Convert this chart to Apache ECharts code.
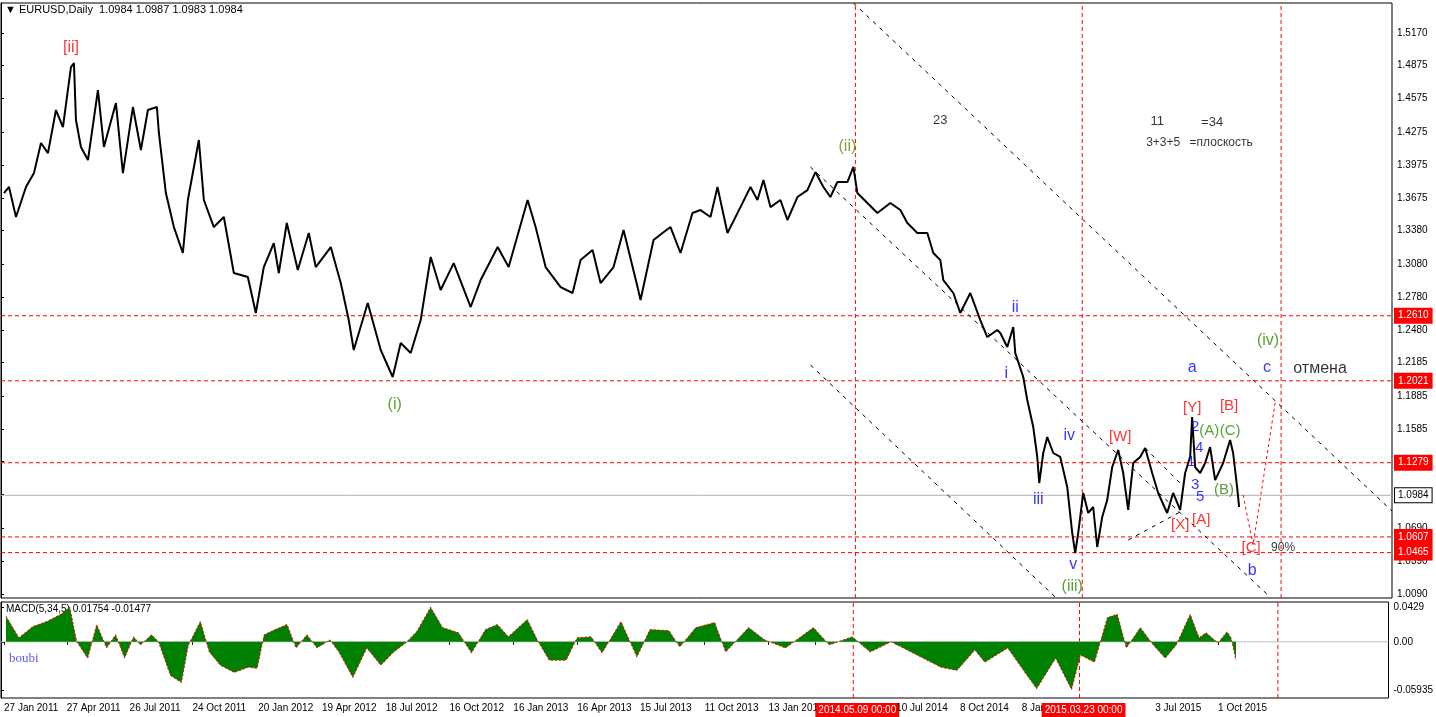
<!DOCTYPE html>
<html>
<head>
<meta charset="utf-8">
<script src="https://cdn.jsdelivr.net/npm/echarts@6/dist/echarts.min.js"></script>
<style>
  html, body { margin: 0; padding: 0; background: #fff; }
  #main { width: 1436px; height: 717px; }
</style>
</head>
<body>
<div id="main"></div>
<script>
// bar index (one per trading day) and close
const priceIdx = [3, 8, 15, 25, 33, 40, 47, 55, 62, 70, 73, 75, 80, 87, 97, 103, 115, 122, 132, 140, 147, 156, 158, 165, 173, 182, 187, 198, 203, 213, 223, 233, 247, 255, 263, 273, 278, 286, 297, 308, 315, 330, 340, 348, 353, 367, 380, 392, 400, 410, 420, 430, 440, 453, 470, 480, 497, 508, 527, 535, 545, 560, 572, 580, 592, 600, 613, 623, 637, 640, 653, 662, 670, 680, 692, 700, 710, 717, 727, 740, 750, 757, 763, 770, 780, 787, 797, 807, 815, 823, 830, 837, 847, 853, 857, 867, 877, 890, 900, 907, 917, 927, 933, 940, 943, 953, 960, 970, 980, 987, 997, 1000, 1007, 1013, 1015, 1023, 1027, 1033, 1037, 1039, 1043, 1047, 1053, 1060, 1067, 1072, 1075, 1078, 1083, 1088, 1093, 1097, 1102, 1107, 1112, 1118, 1123, 1128, 1133, 1140, 1145, 1152, 1158, 1167, 1173, 1180, 1185, 1190, 1192, 1195, 1200, 1205, 1210, 1215, 1223, 1230, 1233, 1237, 1239];
const priceClose = [1.3721, 1.3776, 1.3504, 1.3776, 1.3902, 1.4174, 1.4083, 1.4473, 1.4319, 1.4862, 1.4898, 1.4382, 1.4138, 1.4020, 1.4654, 1.4138, 1.4536, 1.3902, 1.4500, 1.4111, 1.4473, 1.4500, 1.4265, 1.3721, 1.3413, 1.3178, 1.3658, 1.4201, 1.3658, 1.3413, 1.3504, 1.2997, 1.2961, 1.2635, 1.3051, 1.3268, 1.2997, 1.3450, 1.3024, 1.3359, 1.3051, 1.3232, 1.2906, 1.2571, 1.2300, 1.2725, 1.2300, 1.2055, 1.2363, 1.2272, 1.2571, 1.3142, 1.2843, 1.3087, 1.2689, 1.2933, 1.3232, 1.3051, 1.3658, 1.3413, 1.3051, 1.2870, 1.2816, 1.3114, 1.3205, 1.2906, 1.3051, 1.3386, 1.2870, 1.2752, 1.3296, 1.3359, 1.3413, 1.3178, 1.3540, 1.3567, 1.3504, 1.3776, 1.3359, 1.3594, 1.3776, 1.3658, 1.3839, 1.3594, 1.3658, 1.3477, 1.3685, 1.3748, 1.3911, 1.3776, 1.3685, 1.3821, 1.3821, 1.3957, 1.3721, 1.3631, 1.3540, 1.3631, 1.3567, 1.3450, 1.3359, 1.3359, 1.3178, 1.3114, 1.2933, 1.2816, 1.2635, 1.2816, 1.2571, 1.2417, 1.2481, 1.2454, 1.2327, 1.2508, 1.2272, 1.2055, 1.1847, 1.1602, 1.1331, 1.1095, 1.1367, 1.1512, 1.1367, 1.1331, 1.1059, 1.0643, 1.0461, 1.0643, 1.1005, 1.0824, 1.0878, 1.0516, 1.0787, 1.0941, 1.1240, 1.1394, 1.1186, 1.0851, 1.1276, 1.1331, 1.1412, 1.1186, 1.1005, 1.0824, 1.1005, 1.0851, 1.1186, 1.1331, 1.1693, 1.1240, 1.1186, 1.1276, 1.1421, 1.1122, 1.1276, 1.1485, 1.1367, 1.1059, 1.0878];

const macdIdx = [5, 18, 32, 46, 60, 69, 76, 87, 96, 106, 115, 124, 133, 140, 151, 158, 170, 181, 188, 200, 209, 220, 234, 248, 257, 264, 275, 287, 296, 307, 317, 330, 339, 353, 367, 381, 394, 406, 417, 431, 443, 459, 472, 486, 498, 509, 528, 539, 550, 567, 578, 592, 603, 622, 638, 651, 670, 681, 697, 716, 727, 750, 766, 787, 815, 831, 854, 872, 893, 913, 943, 959, 977, 987, 1010, 1028, 1039, 1058, 1074, 1083, 1097, 1110, 1120, 1129, 1143, 1156, 1168, 1179, 1193, 1202, 1209, 1221, 1230, 1234, 1239];
const macdValue = [0.0315, 0.0050, 0.0189, 0.0252, 0.0340, 0.0428, 0.0000, -0.0202, 0.0214, -0.0076, 0.0088, -0.0202, 0.0063, -0.0038, 0.0088, 0.0000, -0.0416, -0.0504, -0.0038, 0.0252, -0.0126, -0.0290, -0.0378, -0.0315, -0.0328, 0.0088, 0.0151, 0.0214, -0.0076, 0.0088, -0.0076, 0.0025, -0.0126, -0.0441, -0.0076, -0.0290, -0.0126, -0.0013, 0.0126, 0.0428, 0.0176, 0.0113, -0.0139, 0.0151, 0.0214, 0.0063, 0.0277, 0.0000, -0.0227, -0.0227, 0.0050, 0.0063, -0.0139, 0.0252, -0.0189, 0.0151, 0.0139, -0.0063, 0.0176, 0.0239, -0.0126, 0.0176, 0.0025, -0.0076, 0.0176, -0.0038, 0.0063, -0.0126, 0.0000, -0.0126, -0.0315, -0.0353, -0.0101, -0.0252, -0.0076, -0.0391, -0.0580, -0.0202, -0.0590, -0.0164, -0.0252, 0.0302, 0.0340, -0.0076, 0.0176, -0.0038, -0.0202, -0.0038, 0.0340, 0.0050, 0.0113, -0.0013, 0.0126, 0.0050, -0.0227];

const priceTicks = [1.5170, 1.4875, 1.4575, 1.4275, 1.3975, 1.3675, 1.3380, 1.3080, 1.2780, 1.2480, 1.2185, 1.1885, 1.1585, 1.1290, 1.0990, 1.0690, 1.0390, 1.0090];
const macdTicks = [0.0429, 0, -0.05935];
const dateTickIdx = [3, 66, 129, 192, 258, 322, 386, 450, 514, 578, 641, 706, 770, 817, 898, 962, 1024, 1044, 1158, 1221, 1243];
const dateTickText = ["27 Jan 2011", "27 Apr 2011", "26 Jul 2011", "24 Oct 2011", "20 Jan 2012", "19 Apr 2012", "18 Jul 2012", "16 Oct 2012", "16 Jan 2013", "16 Apr 2013", "15 Jul 2013", "11 Oct 2013", "13 Jan 2014", "2014.05.09 00:00", "10 Jul 2014", "8 Oct 2014", "8 Jan 2015", "2015.03.23 00:00", "3 Jul 2015", "1 Oct 2015", "2015.12.09 00:00"];

const levelRed = [1.2610, 1.2021, 1.1279, 1.0607, 1.0465];
const lastClose = 1.0984;
const timeLines = [855, 1082, 1281];

// trend channel lines: [x1, p1, x2, p2]
const channels = [[853, 1.5442, 1392, 1.0842], [810, 1.3957, 1270, 1.0063], [810, 1.2164, 1055, 1.0063], [1145, 1.1412, 1180, 1.1095], [1128, 1.0579, 1180, 1.0833]];
const projection = [[1243, 1.0987], [1253, 1.0534], [1275, 1.1820]];

// wave labels: [text, x, price, colour, size]
const RED = "#ff0000", BLUE = "#0000ff", GRN = "#2e8b00", BLK = "#000";
const notes = [
  ["[ii]", 70, 1.5034, RED, 16], ["(i)", 394, 1.1802, GRN, 16], ["(ii)", 847, 1.4138, "#5f8f00", 16],
  ["23", 940, 1.4382, BLK, 13], ["11", 1157, 1.4373, BLK, 13], ["=34", 1212, 1.4364, BLK, 13],
  ["3+3+5", 1163, 1.4174, BLK, 12], ["=плоскость", 1221, 1.4174, BLK, 12],
  ["ii", 1015, 1.2680, BLUE, 16], ["i", 1006, 1.2082, BLUE, 16], ["iv", 1069, 1.1521, BLUE, 16],
  ["iii", 1038, 1.0941, BLUE, 16], ["v", 1073, 1.0353, BLUE, 16], ["(iii)", 1072, 1.0154, GRN, 16],
  ["[W]", 1120, 1.1512, RED, 15], ["[X]", 1180, 1.0715, RED, 15], ["[Y]", 1192, 1.1774, RED, 15],
  ["[A]", 1201, 1.0760, RED, 15], ["[B]", 1229, 1.1792, RED, 15], ["[C]", 1251, 1.0507, RED, 15],
  ["90%", 1283, 1.0507, BLK, 12], ["a", 1192, 1.2137, BLUE, 16], ["c", 1267, 1.2137, BLUE, 16],
  ["b", 1252, 1.0298, BLUE, 16], ["(iv)", 1268, 1.2381, GRN, 16], ["отмена", 1320, 1.2127, BLK, 16],
  ["2", 1195, 1.1602, BLUE, 15], ["(A)", 1209, 1.1566, GRN, 15], ["(C)", 1230, 1.1566, GRN, 15],
  ["4", 1199, 1.1412, BLUE, 15], ["1", 1191, 1.1285, BLUE, 15], ["3", 1195, 1.1077, BLUE, 15],
  ["5", 1200, 1.0968, BLUE, 15], ["(B)", 1224, 1.1032, GRN, 15]
];

const FONT = "Liberation Sans";
const P_MIN = 1.0054, P_MAX = 1.5442, M_MIN = -0.0694, M_MAX = 0.0492, X_MAX = 1392;
const myChart = echarts.init(document.getElementById("main"));

const tickName = (v) => {
  const i = dateTickIdx.indexOf(Math.round(v));
  if (i < 0) return "";
  const t = dateTickText[i];
  return t.indexOf(":") > 0 ? "{r|" + t + "}" : t;
};

const dashRed = { color: RED, type: [4, 3], width: 1 };
const dashBlack = { color: "#000", type: [4, 5], width: 1 };

// a straight segment drawn as its own line series
const seg = (xi, pts, style, endLabel, z) => ({
  type: "line", xAxisIndex: xi, yAxisIndex: xi, data: pts, showSymbol: false, silent: true,
  lineStyle: style, z: z || 2, animation: false,
  endLabel: endLabel || { show: false }
});

const tag = (text, fg, bg, border) => ({
  show: true, formatter: text, color: fg, backgroundColor: bg, borderColor: border || bg,
  borderWidth: 1, padding: [2, 3], fontFamily: FONT, fontSize: 10, distance: 3
});

const xBase = { type: "value", min: 0, max: X_MAX, interval: X_MAX, splitLine: { show: false }, axisLine: { show: false } };

const guides = [];
levelRed.forEach((v) => guides.push(seg(0, [[0, v], [X_MAX, v]], dashRed, tag(v.toFixed(4), "#fff", RED))));
guides.push(seg(0, [[0, lastClose], [X_MAX, lastClose]], { color: "#b0b0b0", width: 1 }, tag(lastClose.toFixed(4), "#000", "#fff", "#000")));
timeLines.forEach((x) => {
  guides.push(seg(0, [[x, P_MIN], [x, P_MAX]], dashRed));
  guides.push(seg(1, [[x, M_MIN], [x, M_MAX]], dashRed));
});
guides.push(seg(1, [[0, 0], [X_MAX, 0]], { color: "#c0c0c0", width: 1 }));
channels.forEach((c) => guides.push(seg(0, [[c[0], c[1]], [c[2], c[3]]], dashBlack)));
guides.push(seg(0, projection, { color: RED, type: [3, 3], width: 1 }));

const options = {
  animation: false,
  grid: [
    { left: 1, right: 44, top: 3, height: 595, show: true, borderColor: "#000", borderWidth: 1 },
    { left: 1, right: 44, top: 602, height: 96, show: true, borderColor: "#000", borderWidth: 1 }
  ],
  xAxis: [
    Object.assign({}, xBase, { gridIndex: 0, axisTick: { show: false }, axisLabel: { show: false } }),
    Object.assign({}, xBase, {
      gridIndex: 1,
      axisTick: { show: true, customValues: dateTickIdx, length: 3, lineStyle: { color: "#000" } },
      axisLabel: {
        customValues: dateTickIdx, formatter: tickName, align: "left", margin: 5,
        fontFamily: FONT, fontSize: 10, color: "#000",
        rich: { r: { backgroundColor: RED, color: "#fff", padding: [2, 3], fontFamily: FONT, fontSize: 10 } }
      }
    })
  ],
  yAxis: [
    {
      type: "value", gridIndex: 0, position: "right", min: P_MIN, max: P_MAX, splitLine: { show: false },
      axisLine: { show: true, lineStyle: { color: "#000" } },
      axisTick: { show: true, customValues: priceTicks, length: 3 },
      axisLabel: { customValues: priceTicks, formatter: (v) => v.toFixed(4), fontFamily: FONT, fontSize: 10, color: "#000", margin: 5 }
    },
    {
      type: "value", gridIndex: 1, position: "right", min: M_MIN, max: M_MAX, splitLine: { show: false },
      axisLine: { show: true, lineStyle: { color: "#000" } },
      axisTick: { show: true, customValues: macdTicks, length: 3 },
      axisLabel: { customValues: macdTicks, formatter: (v) => (v === 0 ? "0.00" : String(v)), fontFamily: FONT, fontSize: 10, color: "#000", margin: 5 }
    }
  ],
  graphic: [
    { type: "text", left: 5, top: 4, style: { text: "▼ EURUSD,Daily  1.0984 1.0987 1.0983 1.0984", font: "11px " + FONT, fill: "#000" } },
    { type: "text", left: 6, top: 604, style: { text: "MACD(5,34,5) 0.01754 -0.01477", font: "10px " + FONT, fill: "#000" } },
    { type: "text", left: 9, top: 652, style: { text: "boubi", font: "13px serif", fill: "#5a5aff" } }
  ],
  series: guides.concat([
    {
      name: "EURUSD", type: "line", xAxisIndex: 0, yAxisIndex: 0, showSymbol: false, z: 3,
      data: priceIdx.map((x, i) => [x, priceClose[i]]),
      lineStyle: { color: "#000", width: 2 }
    },
    {
      name: "labels", type: "scatter", xAxisIndex: 0, yAxisIndex: 0, symbolSize: 0, silent: true, z: 4,
      data: notes.map((n) => ({
        value: [n[1], n[2]],
        label: { show: true, position: "inside", formatter: n[0], color: n[3], fontSize: n[4], fontFamily: "Liberation Sans" }
      }))
    },
    {
      name: "MACD", type: "line", xAxisIndex: 1, yAxisIndex: 1, showSymbol: false, z: 3,
      data: macdIdx.map((x, i) => [x, macdValue[i]]),
      lineStyle: { width: 0 },
      areaStyle: { color: "#008000", opacity: 1, origin: 0 }
    },
    {
      name: "Signal", type: "line", xAxisIndex: 1, yAxisIndex: 1, showSymbol: false, z: 4,
      data: macdIdx.map((x, i) => [x, macdValue[i]]),
      lineStyle: { color: RED, width: 1, type: [2, 2] }
    }
  ])
};

myChart.setOption(options);
</script>
</body>
</html>
